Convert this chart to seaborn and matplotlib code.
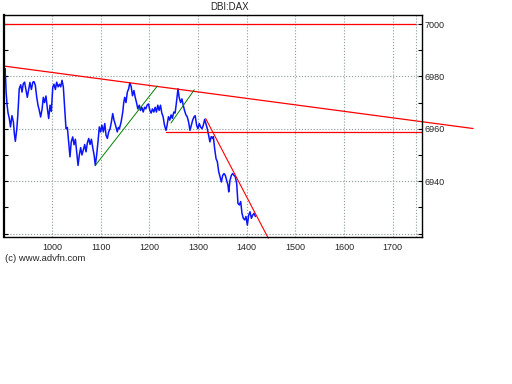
import matplotlib
matplotlib.use("Agg")
import pandas as pd
import seaborn as sns
import matplotlib.pyplot as plt
from matplotlib.ticker import MultipleLocator

# intraday prices, x = time of day as hhmm
times = [900, 901, 902.5, 904, 905, 907, 909, 911.5, 914, 917, 920, 922, 924, 927, 929,
         932, 935, 937.7, 940.3, 943, 945.7, 948.6, 951.4, 954, 957, 960, 962.3, 965, 968,
         970.6, 973.3, 976, 979, 981.5, 984, 987, 990, 992.6, 995.4, 998, 1001, 1003.6,
         1006.4, 1009, 1012, 1014.6, 1017.3, 1020, 1022.7, 1025.5, 1028.2, 1031, 1033.7,
         1036.4, 1039, 1042, 1044.8, 1047.5, 1050.2, 1053, 1055.6, 1058.4, 1061, 1064,
         1066.6, 1069.4, 1072, 1075, 1077.7, 1080.5, 1083.2, 1086, 1088.5, 1091.3, 1094,
         1096.7, 1099.5, 1102, 1105, 1108, 1110.6, 1113.3, 1116, 1118.9, 1121.6, 1124.3,
         1127, 1130, 1133.7, 1136, 1138, 1141.6, 1145, 1147, 1149, 1151.6, 1154.4, 1157,
         1159.6, 1162.4, 1165, 1168, 1170.6, 1173.3, 1176, 1179, 1181.5, 1184.3, 1187, 1190,
         1192.5, 1195, 1198, 1200.7, 1203.4, 1206, 1208.9, 1211.6, 1214.3, 1217, 1219.8,
         1222.6, 1225.3, 1228, 1230.8, 1234, 1236.2, 1239, 1241.7, 1244.4, 1247, 1250,
         1252.7, 1255.4, 1258.6, 1261, 1264, 1266.7, 1269.4, 1272, 1275, 1277.6, 1280.4,
         1283.3, 1286, 1288.7, 1291.4, 1294, 1297, 1299.7, 1302.4, 1305, 1308, 1310.6,
         1313.5, 1316, 1319, 1321.6, 1324.3, 1327, 1330, 1331.3, 1334, 1336.9, 1339.6,
         1342.4, 1345, 1347.8, 1350.6, 1353.3, 1356, 1358.8, 1361.5, 1363, 1365.6, 1368.4,
         1371, 1373.9, 1376.6, 1379.4, 1382, 1384.9, 1387.6, 1390.3, 1393, 1395.8, 1398.5,
         1401.3, 1404, 1406.8, 1409.6, 1412.3, 1415, 1418]
prices = [6997, 6981, 6983, 6979, 6974, 6969, 6966, 6964, 6960.7, 6965, 6962.6, 6958, 6955.2,
          6960, 6965, 6975.3, 6976.8, 6974, 6977.2, 6977.8, 6975, 6972, 6975, 6977.7, 6975,
          6977.8, 6978, 6976.7, 6972, 6969, 6967, 6964.5, 6967.5, 6972, 6970, 6972.5, 6967.5,
          6963.9, 6969, 6966.6, 6975.9, 6977, 6975, 6977.8, 6976, 6977, 6976, 6978.5, 6976,
          6967.7, 6960, 6960.5, 6955, 6949.3, 6955, 6956.9, 6953.9, 6956, 6951.2, 6946, 6950,
          6952.8, 6950, 6952, 6954, 6951.2, 6954.5, 6956.3, 6954, 6956, 6952.8, 6950, 6946,
          6950, 6955, 6960.7, 6958.8, 6961.4, 6958.8, 6962, 6957.5, 6956.3, 6958.8, 6960,
          6962.6, 6965.8, 6963.3, 6961.4, 6958.8, 6960.5, 6960, 6962.6, 6966.4, 6970, 6972,
          6970, 6974, 6975.2, 6977.6, 6976, 6972.6, 6974.6, 6972, 6970, 6967.6, 6969, 6967,
          6968.2, 6966.4, 6968.2, 6967.6, 6969, 6969.5, 6967, 6966, 6967.6, 6966.4, 6968.2,
          6966.4, 6969, 6967, 6969, 6966, 6964.6, 6961.4, 6959.4, 6961.4, 6964.6, 6963.3,
          6965.3, 6964, 6966.4, 6966, 6970, 6975.3, 6972, 6970, 6971.4, 6969, 6967, 6965.3,
          6964.6, 6962.6, 6959.4, 6961.3, 6963.2, 6964.5, 6965, 6961.3, 6960, 6962, 6960.7,
          6960, 6961.3, 6963.6, 6962, 6960, 6957.5, 6955, 6957, 6956.3, 6957, 6952.5, 6948.6,
          6947.4, 6943.6, 6941.7, 6939.7, 6942.2, 6942.9, 6942.2, 6940.3, 6938.4, 6935.9,
          6940.3, 6942.2, 6942.9, 6942.2, 6941.6, 6939, 6931.5, 6930.9, 6932.2, 6927.7,
          6925.8, 6925.2, 6926.5, 6923.2, 6927, 6928.3, 6925.8, 6927, 6927.7, 6926.5]

# drawn trend lines: end points
resist_x = [902.7, 1865.6]
resist_y = [6983.9, 6960.1]
drop_x = [1315.6, 1444.4]
drop_y = [6963.9, 6918.2]
up1_x = [1089.3, 1216]
up1_y = [6946.2, 6976.3]
up2_x = [1244.2, 1292.2]
up2_y = [6962.2, 6974.9]
top_x = [900, 1748]
top_y = [7000, 7000]
floor_x = [1233, 1760]
floor_y = [6958.9, 6958.9]

x_ticks = [1000, 1100, 1200, 1300, 1400, 1500, 1600, 1700]
y_ticks = [6920, 6940, 6960, 6980, 7000]
y_labels = ['', '6940', '6960', '6980', '7000']

sns.set_theme(style="white")
plt.rcParams['font.family'] = ['Liberation Sans', 'DejaVu Sans']

df = pd.DataFrame({'time': times, 'price': prices})

fig = plt.figure(figsize=(5.12, 3.84), dpi=100)
ax = fig.add_axes([0.0072, 0.382, 0.8164, 0.580])

sns.lineplot(data=df, x='time', y='price', ax=ax, color='#0a14ff', lw=1.1,
             estimator=None, sort=False)

ax.plot(top_x, top_y, color='#ff0000', lw=0.9)
ax.plot(floor_x, floor_y, color='#ff0000', lw=0.9)
ax.plot(resist_x, resist_y, color='#ff0000', lw=0.9, clip_on=False)
ax.plot(drop_x, drop_y, color='#ff0000', lw=0.8, clip_on=False)
ax.plot(up1_x, up1_y, color='#008000', lw=0.7)
ax.plot(up2_x, up2_y, color='#008000', lw=0.7)

ax.set_xlim(900, 1760)
ax.set_ylim(6918.55, 7003.6)
ax.set_xticks(x_ticks)
ax.set_yticks(y_ticks)
ax.set_yticklabels(y_labels)
ax.yaxis.set_minor_locator(MultipleLocator(10))
ax.grid(True, ls=':', color='#8a9c9c', lw=0.8)
ax.axvline(1748, ls=':', color='#8a9c9c', lw=0.8)

ax.yaxis.set_ticks_position('both')
ax.tick_params(axis='y', which='both', labelleft=False, labelright=True,
               direction='in', length=3, width=0.8, color='black',
               labelsize=6.5, pad=2)
ax.tick_params(axis='x', length=0, pad=4, labelsize=6.5)
ax.set_xlabel('')
ax.set_ylabel('')

for s in ax.spines.values():
    s.set_color('black')
    s.set_linewidth(1.0)
ax.spines['left'].set_linewidth(1.6)

fig.text(230 / 512, 1 - 7 / 384, "DBI:DAX", ha='center', va='center', fontsize=7)
fig.text(4.7 / 512, 1 - 258.3 / 384, "(c) www.advfn.com", ha='left', va='center',
         fontsize=6.8)

fig.savefig('out.png', dpi=100)
